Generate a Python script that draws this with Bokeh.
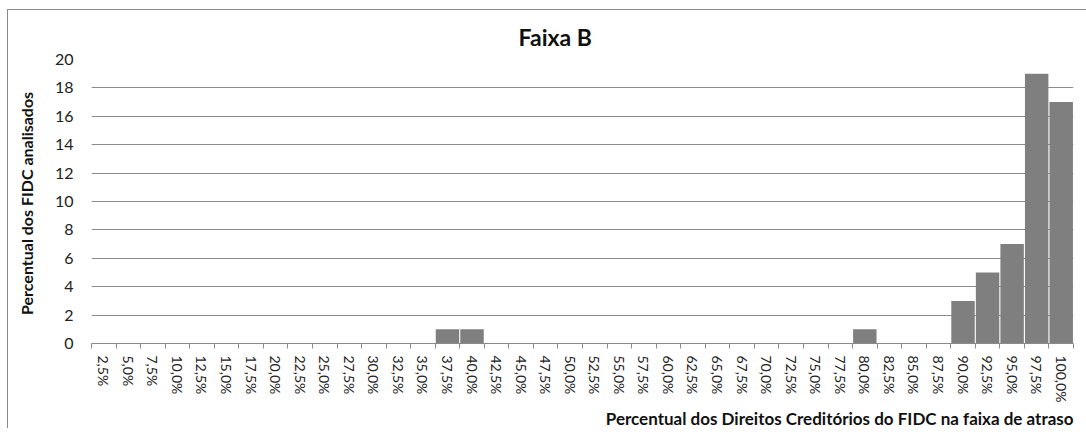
from bokeh.plotting import figure
from bokeh.models import Range1d, FixedTicker, Title
from bokeh.embed import file_html
from bokeh.resources import INLINE

categories = ["2,5%", "5,0%", "7,5%", "10,0%", "12,5%", "15,0%", "17,5%", "20,0%",
              "22,5%", "25,0%", "27,5%", "30,0%", "32,5%", "35,0%", "37,5%", "40,0%",
              "42,5%", "45,0%", "47,5%", "50,0%", "52,5%", "55,0%", "57,5%", "60,0%",
              "62,5%", "65,0%", "67,5%", "70,0%", "72,5%", "75,0%", "77,5%", "80,0%",
              "82,5%", "85,0%", "87,5%", "90,0%", "92,5%", "95,0%", "97,5%", "100,0%"]
values = [0, 0, 0, 0, 0, 0, 0, 0,
          0, 0, 0, 0, 0, 0, 1, 1,
          0, 0, 0, 0, 0, 0, 0, 0,
          0, 0, 0, 0, 0, 0, 0, 1,
          0, 0, 0, 3, 5, 7, 19, 17]
y_ticks = [0, 2, 4, 6, 8, 10, 12, 14, 16, 18, 20]

FONT = "Lato"
n = len(categories)
idx = list(range(n))

p = figure(width=1078, height=424, output_backend="svg", toolbar_location=None,
           x_range=Range1d(-0.5, n - 0.5), y_range=Range1d(0, 20),
           frame_width=982, frame_height=284,
           min_border_left=83, min_border_right=13, min_border_top=49,
           min_border_bottom=40)
p.styles = {"margin-left": "7px", "margin-top": "9px",
            "border-left": "1px solid #8a8a8a", "border-top": "1px solid #8a8a8a"}
p.outline_line_color = None

p.title.text = "Faixa B"
p.title.text_font = FONT
p.title.text_font_size = "23px"
p.title.text_font_style = "bold"
p.title.align = "left"
p.title.offset = 427
p.title.text_color = "#111111"
p.title.standoff = 18

p.vbar(x=idx, top=values, width=0.955, bottom=0, fill_color="#7f7f7f", line_color=None)

# x axis
xa = p.xaxis[0]
xa.ticker = FixedTicker(ticks=idx, minor_ticks=[i - 0.5 for i in range(n + 1)])
xa.major_label_overrides = {i: c for i, c in zip(idx, categories)}
xa.major_label_orientation = "vertical"
xa.major_label_text_font = FONT
xa.major_label_text_font_size = "14px"
xa.major_label_text_color = "#222222"
xa.major_tick_line_color = None
xa.major_tick_out = 0
xa.major_tick_in = 0
xa.minor_tick_line_color = "#8a8a8a"
xa.minor_tick_out = 5
xa.minor_tick_in = 0
xa.axis_line_color = "#8a8a8a"
xa.major_label_standoff = 7

# y axis
ya = p.yaxis[0]
ya.ticker = FixedTicker(ticks=y_ticks)
ya.axis_line_color = None
ya.major_tick_line_color = None
ya.major_tick_out = 0
ya.major_tick_in = 0
ya.minor_tick_line_color = None
ya.major_label_text_font = FONT
ya.major_label_text_font_size = "16px"
ya.major_label_text_color = "#222222"
ya.major_label_standoff = 18
ya.axis_label = "Percentual dos FIDC  analisados"
ya.axis_label_text_font = FONT
ya.axis_label_text_font_size = "16px"
ya.axis_label_text_font_style = "bold"
ya.axis_label_text_color = "#111111"
ya.axis_label_standoff = 16

p.xgrid.grid_line_color = None
p.ygrid.grid_line_color = "#8c8c8c"
p.ygrid.ticker = FixedTicker(ticks=y_ticks)

xt = Title(text="Percentual dos Direitos Creditórios do FIDC na faixa de atraso",
           align="right", text_font=FONT, text_font_size="17px",
           text_font_style="bold", text_color="#111111", standoff=0)
p.add_layout(xt, "below")

open("out.html", "w").write(file_html(p, INLINE))
